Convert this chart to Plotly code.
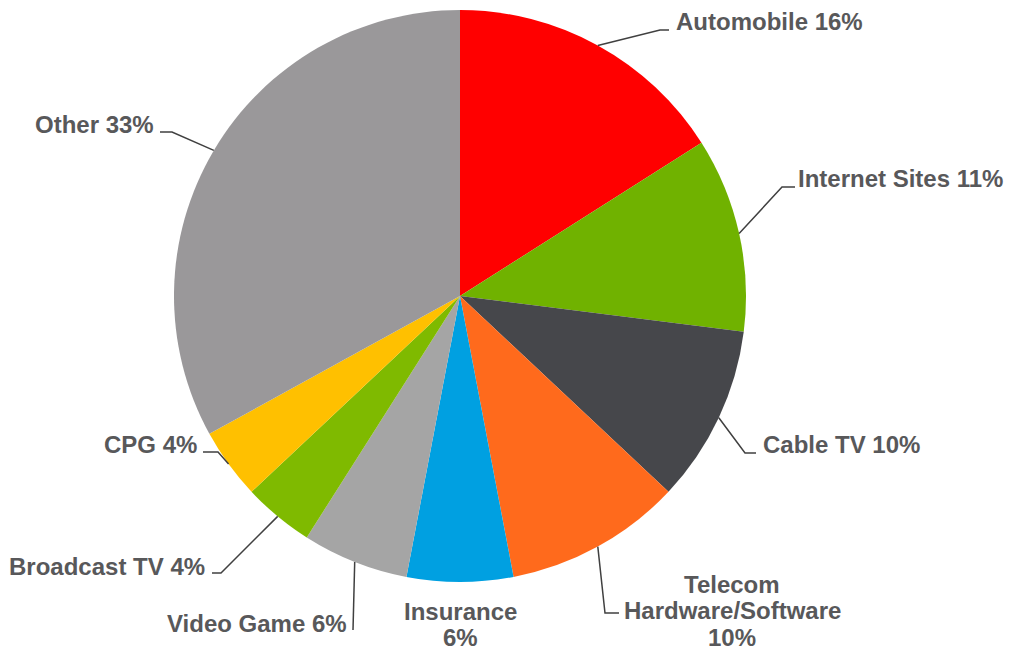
import math
import plotly.graph_objects as go

# ---- data ----
categories = ["Automobile", "Internet Sites", "Cable TV", "Telecom<br>Hardware/Software",
              "Insurance", "Video Game", "Broadcast TV", "CPG", "Other"]
values = [16, 11, 10, 10, 6, 6, 4, 4, 33]
colors = ["#FF0000", "#70B200", "#46474B", "#FF6A1C", "#00A0E1",
          "#A5A5A5", "#7FBA00", "#FFC000", "#9A989A"]

# ---- layout / style ----
W, H = 1009, 650
CX, CY, R = 460, 296, 286
FONT = "Liberation Sans, Arial, sans-serif"
FS = 24
TXT = "#58585A"
LINE = "#404040"
LINE_H = 26.5
# label placement: elbow point, end of horizontal leg, text anchor x, xanchor, centre y of first line
label_layout = [
    dict(elbow=(660, 30), hend=669, tx=675, xa="left", cy=21.5),
    dict(elbow=(782, 187), hend=795, tx=797, xa="left", cy=178),
    dict(elbow=(745, 453), hend=756, tx=762, xa="left", cy=444),
    dict(elbow=(605, 613), hend=619, tx=732, xa="center", cy=584),
    dict(elbow=None, hend=None, tx=460, xa="center", cy=611),
    dict(elbow=(353, 630), hend=353, tx=348, xa="right", cy=623),
    dict(elbow=(221, 573), hend=212, tx=206, xa="right", cy=566),
    dict(elbow=(218, 452), hend=203, tx=198, xa="right", cy=444),
    dict(elbow=(172, 132), hend=160, tx=155, xa="right", cy=124),
]

fig = go.Figure()
fig.add_trace(go.Pie(
    labels=categories, values=values, sort=False, direction="clockwise", rotation=0,
    marker=dict(colors=colors, line=dict(width=0)),
    textinfo="none", hoverinfo="label+percent", showlegend=False,
    domain=dict(x=[(CX - R) / W, (CX + R) / W], y=[(H - CY - R) / H, (H - CY + R) / H]),
))

total = sum(values)
cum = 0
shapes, annotations = [], []
for cat, v, lay in zip(categories, values, label_layout):
    mid = (cum + v / 2) / total * 2 * math.pi
    cum += v
    ex, ey = CX + R * math.sin(mid), CY - R * math.cos(mid)
    pct = round(v / total * 100)
    parts = cat.split("<br>")
    if len(parts) > 1:
        lines = parts + [f"{pct}%"]
    elif cat == "Insurance":
        lines = [cat, f"{pct}%"]
    else:
        lines = [f"{cat} {pct}%"]
    if lay["elbow"] is not None:
        bx, by = lay["elbow"]
        shapes.append(dict(type="path", xref="x", yref="y",
                           path=f"M{ex:.1f},{ey:.1f} L{bx},{by} L{lay['hend']},{by}",
                           line=dict(color=LINE, width=1.5)))
    for i, t in enumerate(lines):
        annotations.append(dict(x=lay["tx"], y=lay["cy"] + i * LINE_H, xref="x", yref="y",
                                text=f"<b>{t}</b>", showarrow=False, xanchor=lay["xa"],
                                yanchor="middle", borderpad=0,
                                font=dict(family=FONT, size=FS, color=TXT)))

fig.update_layout(
    width=W, height=H, margin=dict(l=0, r=0, t=0, b=0),
    paper_bgcolor="white", plot_bgcolor="white",
    xaxis=dict(range=[0, W], visible=False, domain=[0, 1], fixedrange=True),
    yaxis=dict(range=[H, 0], visible=False, domain=[0, 1], fixedrange=True),
    shapes=shapes, annotations=annotations,
)
fig.write_html("out.html", config={"displayModeBar": False},
               post_script="document.body.style.margin='0';document.body.style.overflow='hidden';")
